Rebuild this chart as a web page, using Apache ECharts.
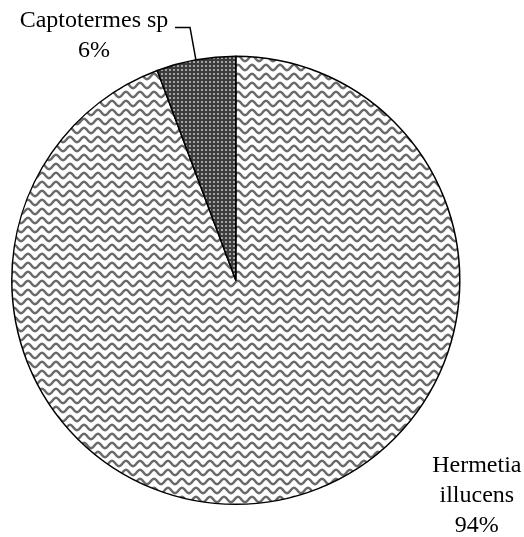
<!DOCTYPE html>
<html>
<head>
<meta charset="utf-8">
<script src="https://cdn.jsdelivr.net/npm/echarts@6/dist/echarts.min.js"></script>
<style>
  html, body { margin: 0; padding: 0; background: #fff; }
  #chart { width: 524px; height: 537px; }
</style>
</head>
<body>
<div id="chart"></div>
<script>
const species = ['Hermetia illucens', 'Captotermes sp'];
const shares = [94.3, 5.7];
const labelNames = ['Hermetia\nillucens', 'Captotermes sp'];

// wavy hatch for the big slice
function wavePattern() {
  const c = document.createElement('canvas');
  c.width = 14;
  c.height = 9;
  const ctx = c.getContext('2d');
  ctx.fillStyle = '#fff';
  ctx.fillRect(0, 0, 14, 9);
  ctx.strokeStyle = '#6a6a6a';
  ctx.lineWidth = 2.4;
  ctx.beginPath();
  for (let x = -1; x <= 15; x += 0.5) {
    const y = 4.5 - 2.7 * Math.cos((x / 14) * Math.PI * 2);
    if (x === -1) ctx.moveTo(x, y);
    else ctx.lineTo(x, y);
  }
  ctx.stroke();
  return c;
}

// dark dotted fill for the small slice
function dotPattern() {
  const c = document.createElement('canvas');
  c.width = 4;
  c.height = 4;
  const ctx = c.getContext('2d');
  ctx.fillStyle = '#3c3c3c';
  ctx.fillRect(0, 0, 4, 4);
  ctx.fillStyle = '#bdbdbd';
  ctx.beginPath();
  ctx.arc(2, 2, 1.1, 0, Math.PI * 2);
  ctx.fill();
  return c;
}

const fills = [wavePattern(), dotPattern()];

const chart = echarts.init(document.getElementById('chart'));

chart.setOption({
  backgroundColor: '#fff',
  animation: false,
  series: [
    {
      type: 'pie',
      center: ['45%', '52.2%'],
      radius: 224,
      startAngle: 90,
      avoidLabelOverlap: false,
      silent: true,
      itemStyle: { borderColor: '#000', borderWidth: 1.5 },
      label: {
        show: true,
        position: 'outside',
        color: '#000',
        fontFamily: 'Liberation Serif',
        fontSize: 24,
        lineHeight: 30,
        formatter: (p) => {
          const lines = labelNames[p.dataIndex].split('\n');
          lines.push(Math.round(p.percent) + '%');
          return lines.map((l) => '{t|' + l + '}').join('\n');
        },
        rich: {
          t: {
            fontFamily: 'Liberation Serif',
            fontSize: 24,
            lineHeight: 30,
            color: '#000',
            width: 152,
            align: 'center',
          },
        },
      },
      labelLine: {
        show: true,
        length: 33,
        length2: 15,
        lineStyle: { color: '#000', width: 1.5 },
      },
      labelLayout: (params) => {
        if (params.dataIndex === 0) {
          return { x: '91%', y: '92.4%', align: 'center', verticalAlign: 'middle' };
        }
        return {};
      },
      data: species.map((name, i) => ({
        name,
        value: shares[i],
        itemStyle: { color: { image: fills[i], repeat: 'repeat' } },
        labelLine: { show: i !== 0 },
        label: i === 1 ? { padding: [16, 0, 0, 0] } : {},
      })),
    },
  ],
});
</script>
</body>
</html>
